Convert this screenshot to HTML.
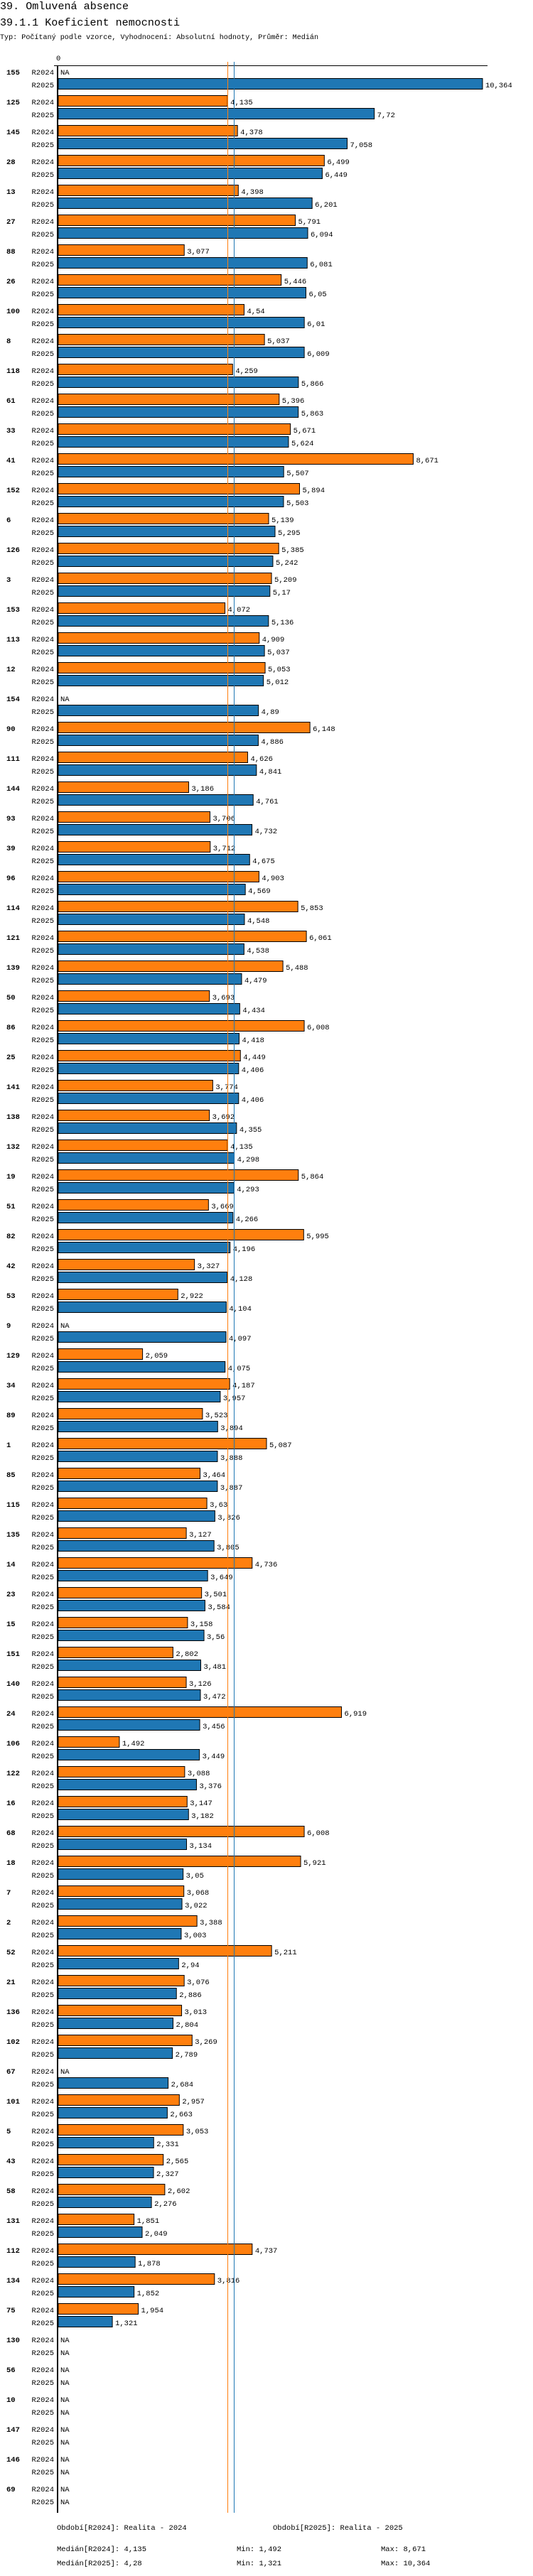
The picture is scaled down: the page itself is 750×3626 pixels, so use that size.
<!DOCTYPE html>
<html><head><meta charset="utf-8">
<style>
html,body{margin:0;padding:0;background:#fff;}
svg{display:block;font-family:"Liberation Mono",monospace;}
</style></head>
<body>
<svg id="chart" width="750" height="3626" viewBox="0 0 750 3626" xmlns="http://www.w3.org/2000/svg">
<text x="0" y="13" font-size="15" textLength="181" lengthAdjust="spacingAndGlyphs">39. Omluvená absence</text>
<text x="0" y="36" font-size="15" textLength="253" lengthAdjust="spacingAndGlyphs">39.1.1 Koeficient nemocnosti</text>
<text x="0" y="55" font-size="10.5" textLength="448" lengthAdjust="spacingAndGlyphs">Typ: Počítaný podle vzorce, Vyhodnocení: Absolutní hodnoty, Průměr: Medián</text>
<g id="plot"></g>
<g font-size="10.5">
<text x="80" y="3561">Období[R2024]: Realita - 2024</text>
<text x="384" y="3561">Období[R2025]: Realita - 2025</text>
<text x="80" y="3591">Medián[R2024]: 4,135</text>
<text x="333" y="3591">Min: 1,492</text>
<text x="536" y="3591">Max: 8,671</text>
<text x="80" y="3611">Medián[R2025]: 4,28</text>
<text x="333" y="3611">Min: 1,321</text>
<text x="536" y="3611">Max: 10,364</text>
</g>
</svg>
<script>
const categories = ["155","125","145","28","13","27","88","26","100","8","118","61","33","41","152","6","126","3","153","113","12","154","90","111","144","93","39","96","114","121","139","50","86","25","141","138","132","19","51","82","42","53","9","129","34","89","1","85","115","135","14","23","15","151","140","24","106","122","16","68","18","7","2","52","21","136","102","67","101","5","43","58","131","112","134","75","130","56","10","147","146","69"];
const r2024 = [null,4.135,4.378,6.499,4.398,5.791,3.077,5.446,4.54,5.037,4.259,5.396,5.671,8.671,5.894,5.139,5.385,5.209,4.072,4.909,5.053,null,6.148,4.626,3.186,3.706,3.712,4.903,5.853,6.061,5.488,3.693,6.008,4.449,3.774,3.692,4.135,5.864,3.669,5.995,3.327,2.922,null,2.059,4.187,3.523,5.087,3.464,3.63,3.127,4.736,3.501,3.158,2.802,3.126,6.919,1.492,3.088,3.147,6.008,5.921,3.068,3.388,5.211,3.076,3.013,3.269,null,2.957,3.053,2.565,2.602,1.851,4.737,3.816,1.954,null,null,null,null,null,null];
const r2025 = [10.364,7.72,7.058,6.449,6.201,6.094,6.081,6.05,6.01,6.009,5.866,5.863,5.624,5.507,5.503,5.295,5.242,5.17,5.136,5.037,5.012,4.89,4.886,4.841,4.761,4.732,4.675,4.569,4.548,4.538,4.479,4.434,4.418,4.406,4.406,4.355,4.298,4.293,4.266,4.196,4.128,4.104,4.097,4.075,3.957,3.894,3.888,3.887,3.826,3.805,3.649,3.584,3.56,3.481,3.472,3.456,3.449,3.376,3.182,3.134,3.05,3.022,3.003,2.94,2.886,2.804,2.789,2.684,2.663,2.331,2.327,2.276,2.049,1.878,1.852,1.321,null,null,null,null,null,null];
const medians = [4.135, 4.28];
const seriesNames = ["R2024","R2025"];

const NS = "http://www.w3.org/2000/svg";
const plot = document.getElementById("plot");
const X0 = 82, SCALE = 57.6, TOP = 101, PITCH = 42;
function xScale(v){ return X0 + v*SCALE; }
function yCenter(i, s){ return TOP + i*PITCH + s*18; }
function fmt(v){ return String(v).replace(".", ","); }
function mk(tag, attrs, txt){
  const e = document.createElementNS(NS, tag);
  for (const k in attrs) e.setAttribute(k, attrs[k]);
  if (txt !== undefined) e.textContent = txt;
  plot.appendChild(e);
  return e;
}
const bottom = 3537;
let e;
e = mk("text", {x:79, y:85, "font-size":10.5}, "0");


e = mk("line", {x1:76, x2:686, y1:92.5, y2:92.5, stroke:"#000", "stroke-width":1});


const colors = ["#ff7f0e", "#1f77b4"];
const series = [r2024, r2025];
categories.forEach((c, i) => {
  e = mk("text", {x:9, y:yCenter(i,0)+4, "font-size":10.5, "font-weight":"bold"}, c);
  
  
  for (let s = 0; s < 2; s++) {
    const yc = yCenter(i, s);
    e = mk("text", {x:44.5, y:yc+4, "font-size":10.5}, seriesNames[s]);
    
    
    const v = series[s][i];
    if (v === null) {
      e = mk("text", {x:85, y:yc+4, "font-size":10.5}, "NA");
      
      
    } else {
      const xe = xScale(v);
      e = mk("rect", {x:X0, y:yc-8.5, width:xe-X0, height:15, fill:colors[s], stroke:"#000", "stroke-width":1});
      
      
      e = mk("text", {x:xe+4, y:yc+4, "font-size":10.5}, fmt(v));
      
      
    }
  }
});
medians.forEach((m, s) => {
  const x = Math.round(xScale(m)) + 0.5;
  e = mk("line", {x1:x, x2:x, y1:87, y2:bottom, stroke:colors[s], "stroke-width":1});
  
  
});
e = mk("line", {x1:81, x2:81, y1:92, y2:bottom, stroke:"#000", "stroke-width":2});


</script>
</body></html>
